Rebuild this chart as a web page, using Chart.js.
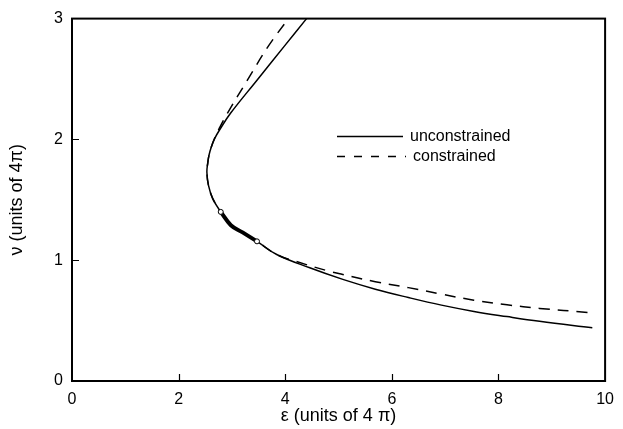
<!DOCTYPE html>
<html>
<head>
<meta charset="utf-8">
<script src="https://cdn.jsdelivr.net/npm/chart.js@4/dist/chart.umd.min.js"></script>
<style>
  body { margin: 0; background: #fff; }
  canvas { display: block; }
</style>
</head>
<body>
<canvas id="nu-eps-chart" width="623" height="429"></canvas>
<script>
// curve values, epsilon and nu both in units of 4 pi
const unconstrained_eps = [9.76, 8.77, 8.16, 7.54, 6.93, 6.31, 5.69, 5.08, 4.46, 3.84, 3.47, 3.2, 2.98, 2.79, 2.64, 2.56, 2.53, 2.545, 2.57, 2.615, 2.68, 2.77, 2.98, 3.47, 3.98, 4.40]
const unconstrained_nu = [0.44, 0.494, 0.533, 0.576, 0.628, 0.691, 0.76, 0.841, 0.937, 1.047, 1.156, 1.23, 1.29, 1.40, 1.51, 1.62, 1.73, 1.80, 1.87, 1.94, 2.01, 2.08, 2.22, 2.49, 2.77, 3.00]

const constrained_eps = [9.67, 8.77, 8.16, 7.54, 6.93, 6.31, 5.69, 5.08, 4.77, 4.21, 3.84, 3.47, 3.2, 2.98, 2.79, 2.64, 2.56, 2.53, 2.545, 2.57, 2.615, 2.675, 2.75, 2.92, 3.29, 3.68, 4.06]
const constrained_nu = [0.568, 0.601, 0.631, 0.669, 0.719, 0.773, 0.822, 0.882, 0.915, 0.989, 1.047, 1.156, 1.23, 1.29, 1.40, 1.51, 1.62, 1.73, 1.80, 1.87, 1.94, 2.01, 2.08, 2.22, 2.49, 2.77, 3.00]

// overlapping stretch drawn heavier, open dots at both ends
const overlap_eps = [2.79, 2.98, 3.2, 3.47]
const overlap_nu = [1.40, 1.29, 1.23, 1.156]

const x_ticks = [0, 2, 4, 6, 8, 10]
const y_ticks = [0, 1, 2, 3]

const legend_labels = ['unconstrained', 'constrained']

const FONT = 'Liberation Sans, Arial, Helvetica, sans-serif'

function to_points(xs, ys) {
  return xs.map((x, i) => ({ x: x, y: ys[i] }))
}

// box around the plot, inward ticks and the little legend
const frame_plugin = {
  id: 'frame_plugin',
  afterDraw(chart) {
    const ctx = chart.ctx
    const area = chart.chartArea
    const sx = chart.scales.x
    const sy = chart.scales.y
    ctx.save()
    ctx.strokeStyle = '#000'
    ctx.lineWidth = 2
    ctx.strokeRect(area.left, area.top, area.right - area.left, area.bottom - area.top)

    ctx.lineWidth = 1.2
    ctx.beginPath()
    x_ticks.slice(1, -1).forEach(v => {
      const px = Math.round(sx.getPixelForValue(v)) + 0.5
      ctx.moveTo(px, area.bottom)
      ctx.lineTo(px, area.bottom - 7)
    })
    y_ticks.slice(1, -1).forEach(v => {
      const py = Math.round(sy.getPixelForValue(v)) + 0.5
      ctx.moveTo(area.left, py)
      ctx.lineTo(area.left + 7, py)
    })
    ctx.stroke()

    // legend
    const lx = area.left + 265
    const ly = area.top + 118
    ctx.lineWidth = 1.5
    ctx.beginPath()
    ctx.moveTo(lx, ly)
    ctx.lineTo(lx + 66, ly)
    ctx.stroke()
    ctx.setLineDash([8, 9])
    ctx.beginPath()
    ctx.moveTo(lx, ly + 20)
    ctx.lineTo(lx + 69, ly + 20)
    ctx.stroke()
    ctx.setLineDash([])

    ctx.fillStyle = '#000'
    ctx.font = '16px ' + FONT
    ctx.textBaseline = 'middle'
    ctx.fillText(legend_labels[0], lx + 73, ly)
    ctx.fillText(legend_labels[1], lx + 76, ly + 20)
    ctx.restore()
  }
}

const datasets = [
  {
    label: 'overlap',
    data: to_points(overlap_eps, overlap_nu),
    showLine: true,
    borderColor: '#000',
    borderWidth: 4,
    tension: 0.4,
    pointRadius: [2.5, 0, 0, 2.5],
    pointBackgroundColor: '#fff',
    pointBorderColor: '#000',
    pointBorderWidth: 1
  },
  {
    label: legend_labels[0],
    data: to_points(unconstrained_eps, unconstrained_nu),
    showLine: true,
    borderColor: '#000',
    borderWidth: 1.5,
    tension: 0.4,
    pointRadius: 0
  },
  {
    label: legend_labels[1],
    data: to_points(constrained_eps, constrained_nu),
    showLine: true,
    borderColor: '#000',
    borderWidth: 1.5,
    borderDash: [11, 8],
    tension: 0.4,
    pointRadius: 0
  }
]

const ctx = document.getElementById('nu-eps-chart')
const chart = new Chart(ctx, {
  type: 'scatter',
  data: { datasets: datasets },
  options: {
    responsive: false,
    animation: false,
    layout: { padding: { top: 15, right: 10, left: 0, bottom: 0 } },
    plugins: { legend: { display: false }, tooltip: { enabled: false } },
    scales: {
      x: {
        type: 'linear',
        min: 0,
        max: 10,
        afterBuildTicks: s => { s.ticks = x_ticks.map(v => ({ value: v })) },
        afterFit: s => { s.height = 48 },
        grid: { display: false, drawTicks: false },
        border: { display: false },
        ticks: { color: '#000', padding: 9, font: { family: FONT, size: 16 } },
        title: {
          display: true,
          text: 'ε (units of 4 π)',
          color: '#000',
          font: { family: FONT, size: 18 },
          padding: { top: 0, bottom: 2 }
        }
      },
      y: {
        type: 'linear',
        min: 0,
        max: 3,
        afterBuildTicks: s => { s.ticks = y_ticks.map(v => ({ value: v })) },
        afterFit: s => { s.width = 72 },
        grid: { display: false, drawTicks: false },
        border: { display: false },
        ticks: { color: '#000', padding: 9, font: { family: FONT, size: 16 } },
        title: {
          display: true,
          text: 'ν (units of 4π)',
          color: '#000',
          font: { family: FONT, size: 18 },
          padding: { top: 6, bottom: 0 }
        }
      }
    }
  },
  plugins: [frame_plugin]
})
</script>
</body>
</html>
